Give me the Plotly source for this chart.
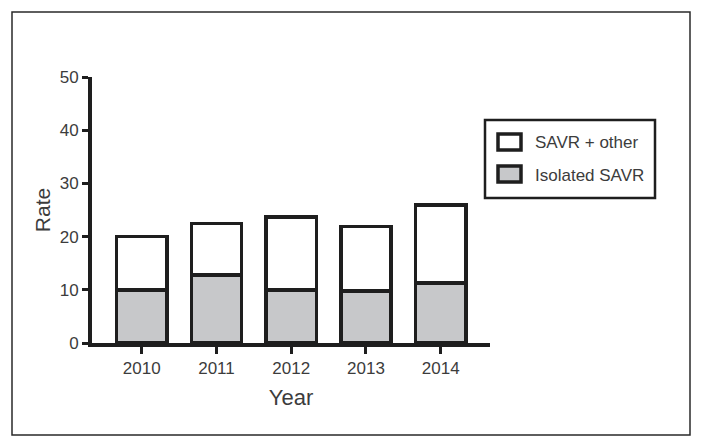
import plotly.graph_objects as go

years = ["2010", "2011", "2012", "2013", "2014"]
isolated_savr = [10.0, 12.8, 10.0, 9.8, 11.3]
savr_plus_other = [10.0, 9.7, 13.7, 12.1, 14.6]
y_ticks = [0, 10, 20, 30, 40, 50]

OFF = 8  # page body margin
W, H = 703 - 2 * OFF, 448 - 2 * OFF
L, R, T, B = 92 - OFF, 490 - OFF, 77 - OFF, 343 - OFF  # plot area in figure pixels

def px(x):
    return (x - OFF - L) / (R - L)

def py(y):
    return (B - (y - OFF)) / (B - T)

FONT = "Liberation Sans, Arial, sans-serif"
TXT = "#3c3c3c"
LINE = "#1e1e1e"
GRAY = "#c7c8ca"

fig = go.Figure()
fig.add_trace(go.Bar(x=years, y=isolated_savr, name="Isolated SAVR",
                     marker=dict(color=GRAY, line=dict(color=LINE, width=3.5)),
                     width=0.67, showlegend=False))
fig.add_trace(go.Bar(x=years, y=savr_plus_other, name="SAVR + other",
                     marker=dict(color="white", line=dict(color=LINE, width=3.5)),
                     width=0.67, showlegend=False))

shapes = [
    dict(type="rect", xref="paper", yref="paper", x0=px(12), x1=px(690), y0=py(435), y1=py(12),
         line=dict(color="#2a2a2a", width=1.5), fillcolor="rgba(0,0,0,0)", layer="below"),
    dict(type="rect", xref="paper", yref="paper", x0=px(485), x1=px(655), y0=py(198), y1=py(120),
         line=dict(color=LINE, width=2.5), fillcolor="white"),
    dict(type="rect", xref="paper", yref="paper", x0=px(498), x1=px(521), y0=py(150), y1=py(134),
         line=dict(color=LINE, width=3.5), fillcolor="white"),
    dict(type="rect", xref="paper", yref="paper", x0=px(498), x1=px(521), y0=py(182), y1=py(166),
         line=dict(color=LINE, width=3.5), fillcolor=GRAY),
]
annotations = [
    dict(text="SAVR + other", xref="paper", yref="paper", x=px(533), y=py(142),
         xanchor="left", yanchor="middle", showarrow=False, font=dict(size=17, color=TXT, family=FONT)),
    dict(text="Isolated SAVR", xref="paper", yref="paper", x=px(533), y=py(175),
         xanchor="left", yanchor="middle", showarrow=False, font=dict(size=17, color=TXT, family=FONT)),
]

fig.update_layout(
    width=W, height=H, barmode="stack",
    margin=dict(l=L, r=W - R, t=T, b=H - B, pad=0),
    paper_bgcolor="white", plot_bgcolor="white",
    font=dict(family=FONT, color=TXT, size=17),
    shapes=shapes, annotations=annotations,
    xaxis=dict(type="category", range=[-0.665, 4.659], showline=True, linecolor=LINE, linewidth=4,
               ticks="outside", ticklen=7, tickwidth=3, tickcolor=LINE, showgrid=False, zeroline=False,
               tickfont=dict(size=17, color=TXT), fixedrange=True,
               title=dict(text="Year", font=dict(size=22, color=TXT), standoff=13)),
    yaxis=dict(range=[0, 50], tickvals=y_ticks, showline=True, linecolor=LINE, linewidth=4,
               ticks="outside", ticklen=6, tickwidth=3, tickcolor=LINE, showgrid=False, zeroline=False,
               tickfont=dict(size=17, color=TXT), fixedrange=True,
               title=dict(text="Rate", font=dict(size=21, color=TXT), standoff=4)),
)

fig.write_html("out.html", config={"displayModeBar": False})
